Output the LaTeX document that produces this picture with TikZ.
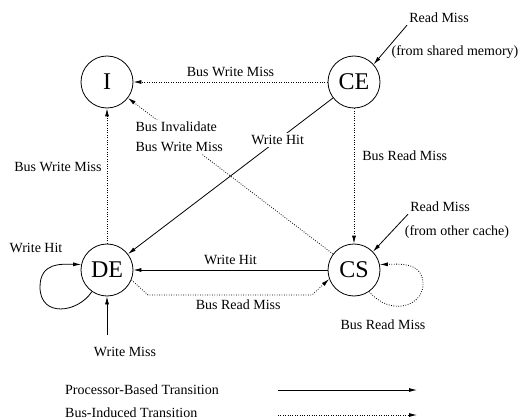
\documentclass[tikz,border=0pt]{standalone}
\usepackage{fontspec}
\setmainfont{Liberation Serif}
\usetikzlibrary{arrows.meta}
\tikzset{
	state/.style={draw, circle, line width=0.8pt, minimum size=52pt, inner sep=0pt, font=\fontsize{24}{24}\selectfont},
	cpu/.style={line width=0.8pt, -{Latex[length=8pt,width=4pt]}},
	bus/.style={line width=0.8pt, dash pattern=on 0.8pt off 1.6pt, -{Latex[length=8pt,width=4pt]}},
	lbl/.style={font=\fontsize{14}{20}\selectfont, inner sep=2pt},
}

\begin{document}
\begin{tikzpicture}[x=1pt, y=-1pt]
			%%%%% START %%%%%
			\useasboundingbox (0, 0) rectangle (523, 420);
			
			\node[state] (I) at (107, 82) {I};
			\node[state] (CE) at (354, 82) {CE};
			\node[state] (DE) at (107, 270) {DE};
			\node[state] (CS) at (354, 270) {CS};
			
			\draw[bus] (CE) -- (I) node[lbl, midway, above=3pt] {Bus Write Miss};
			\draw[bus] (CS) -- (I) node[lbl, pos=0.75, fill=white, align=left] {Bus Invalidate\\Bus Write Miss};
			\draw[cpu] (CE) -- (DE) node[lbl, pos=0.27, fill=white] {Write Hit};
			\draw[bus] (DE) -- (I) node[lbl, pos=0.57, left=3pt] {Bus Write Miss};
			\draw[bus] (CE) -- (CS) node[lbl, pos=0.35, right=6pt] {Bus Read Miss};
			\draw[cpu] (CS) -- (DE) node[lbl, midway, above=3pt] {Write Hit};
			
			\coordinate (bendL) at (148, 295);
			\coordinate (bendR) at (312, 295);
			\draw[bus] (DE.-22) -- (bendL) -- (bendR) node[lbl, pos=0.55, below=2pt] {Bus Read Miss} -- (CS.-160);
			
			\draw[bus] (CS.-55) .. controls (392, 318) and (425, 305) .. (423, 282) .. controls (421, 262) and (400, 264) .. (CS.12);
			\node[lbl] (csloop) at (383, 325) {Bus Read Miss};
			
			\draw[cpu] (DE.-125) .. controls (78, 313) and (40, 318) .. (40, 287) .. controls (40, 262) and (62, 264) .. (DE.168);
			\node[lbl] (deloop) at (36, 248) {Write Hit};
			
			\node[lbl] (wmiss) at (125, 352) {Write Miss};
			\coordinate (wmissA) at (107, 335);
			\draw[cpu] (wmissA) -- (DE);
			
			\node[lbl] (rmce) at (439, 18) {Read Miss};
			\node[lbl] (shared) at (455, 52) {(from shared memory)};
			\draw[cpu] (rmce.south west) -- (CE.42);
			
			\node[lbl] (rmcs) at (440, 207) {Read Miss};
			\node[lbl] (other) at (457, 232) {(from other cache)};
			\draw[cpu] (rmcs.south west) -- (CS.44);
			
			\node[lbl, anchor=west] (proc) at (63, 390) {Processor-Based Transition};
			\node[lbl, anchor=west, inner sep=0.5pt] (induced) at (64.5, 412.5) {Bus-Induced Transition};
			\coordinate (procA) at (278, 390);
			\coordinate (procB) at (417, 390);
			\draw[cpu] (procA) -- (procB);
			\coordinate (busA) at (278, 415);
			\coordinate (busB) at (417, 415);
			\draw[bus] (busA) -- (busB);
			
			%%%%% END %%%%%
\end{tikzpicture}
\end{document}
